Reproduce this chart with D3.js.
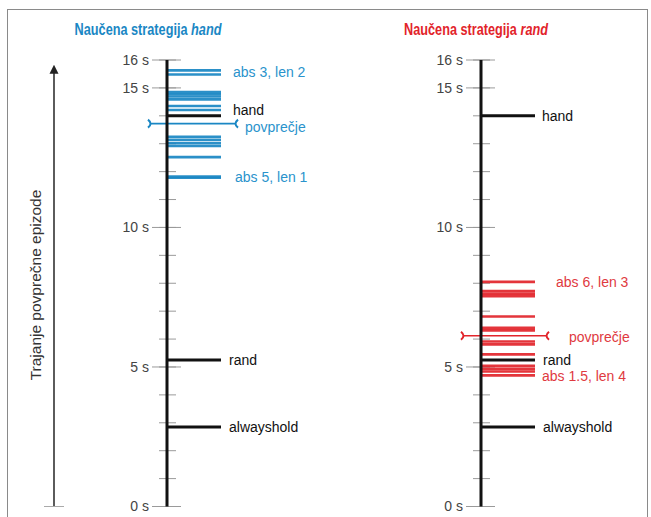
<!DOCTYPE html>
<html>
<head>
<meta charset="utf-8">
<script src="https://cdn.jsdelivr.net/npm/d3@7/dist/d3.min.js"></script>
<style>
  html, body { margin: 0; padding: 0; background: #fff; }
  svg { display: block; }
  text { font-family: "Liberation Sans", Arial, sans-serif; }
</style>
</head>
<body>
<script>
// Episode durations (seconds) of the learned strategies
const tickLabels = [0, 5, 10, 15, 16];
const minorTicks = d3.range(0, 17, 1);

const handRuns = [15.63, 15.48, 14.85, 14.77, 14.69, 14.59, 14.35, 14.21,
                  13.25, 13.14, 13.02, 12.92, 12.52, 11.82, 11.78];
const handMean = 13.72;

const randRuns = [8.05, 7.72, 7.63, 7.54, 6.81, 6.40, 6.31, 5.91, 5.81,
                  5.45, 5.04, 4.93, 4.84, 4.70];
const randMean = 6.12;

const refNames = ["hand", "rand", "alwayshold"];
const refValues = [14.0, 5.25, 2.85];

const handNotes = ["abs 3, len 2", "abs 5, len 1"];
const handNoteValues = [15.55, 11.8];
const randNotes = ["abs 6, len 3", "abs 1.5, len 4"];
const randNoteValues = [8.05, 4.7];

const W = 651, H = 517;
const svg = d3.select("body").append("svg").attr("width", W).attr("height", H);

// frame
svg.append("rect").attr("x", 7.5).attr("y", 9.5).attr("width", 640).attr("height", 540)
  .attr("fill", "none").attr("stroke", "#8a8a8a").attr("stroke-width", 1);

const y = d3.scaleLinear().domain([0, 16]).range([506.5, 60]);

// y-axis title with arrow
svg.append("defs").append("marker")
  .attr("id", "arrow").attr("viewBox", "0 0 10 10").attr("refX", 2).attr("refY", 5)
  .attr("markerUnits", "userSpaceOnUse")
  .attr("markerWidth", 9).attr("markerHeight", 12).attr("orient", "auto")
  .append("path").attr("d", "M0,0 L10,5 L0,10 Z").attr("fill", "#222");
svg.append("line").attr("x1", 54).attr("x2", 54).attr("y1", y(0)).attr("y2", 72)
  .attr("stroke", "#333").attr("stroke-width", 1.6).attr("marker-end", "url(#arrow)");
svg.append("line").attr("x1", 44).attr("x2", 64).attr("y1", y(0)).attr("y2", y(0))
  .attr("stroke", "#aaa").attr("stroke-width", 1);
svg.append("text").attr("transform", `translate(41,285) rotate(-90)`)
  .attr("text-anchor", "middle").attr("font-size", 15.5).attr("fill", "#333")
  .text("Trajanje povprečne epizode");

function panel(cfg) {
  const g = svg.append("g");
  const ax = cfg.axisX;

  // title in a condensed setting
  const tg = g.append("g").attr("transform", `translate(${cfg.titleX},35)`);
  const t = tg.append("text").attr("x", 0).attr("y", 0)
    .attr("text-anchor", "middle").attr("font-size", 17).attr("font-weight", "bold")
    .attr("fill", cfg.color);
  t.append("tspan").text("Naučena strategija ");
  t.append("tspan").attr("font-style", "italic").text(cfg.name);
  const len = t.node().getComputedTextLength();
  t.attr("transform", `scale(${cfg.titleW / len},1)`);

  // minor ticks
  g.selectAll(".minor").data(minorTicks).join("line")
    .attr("x1", ax - 8).attr("x2", ax + 9)
    .attr("y1", d => y(d)).attr("y2", d => y(d))
    .attr("stroke", "#9a9a9a").attr("stroke-width", 1);
  // labelled ticks
  g.selectAll(".major").data(tickLabels).join("line")
    .attr("x1", ax - 15).attr("x2", ax + 14)
    .attr("y1", d => y(d)).attr("y2", d => y(d))
    .attr("stroke", "#9a9a9a").attr("stroke-width", 1);
  g.selectAll(".tl").data(tickLabels).join("text")
    .attr("x", ax - 18).attr("y", d => y(d)).attr("dy", "0.35em")
    .attr("text-anchor", "end").attr("font-size", 14).attr("fill", "#444")
    .text(d => d + " s");

  // runs of the learned strategy
  g.selectAll(".run").data(cfg.runs).join("line")
    .attr("x1", ax).attr("x2", ax + 54)
    .attr("y1", d => y(d)).attr("y2", d => y(d))
    .attr("stroke", cfg.color).attr("stroke-width", 2.6).attr("opacity", 0.92);

  // reference strategies
  const refs = refNames.map((n, i) => ({ name: n, value: refValues[i] }));
  g.selectAll(".ref").data(refs).join("line")
    .attr("x1", ax).attr("x2", ax + 54)
    .attr("y1", d => y(d.value)).attr("y2", d => y(d.value))
    .attr("stroke", "#111").attr("stroke-width", 3);
  g.selectAll(".refl").data(refs).join("text")
    .attr("x", d => ax + cfg.refDx[d.name][0])
    .attr("y", d => y(d.value) + cfg.refDx[d.name][1]).attr("dy", "0.35em")
    .attr("font-size", 14).attr("fill", "#111").text(d => d.name);

  // average with bracket caps
  const my = y(cfg.mean);
  const x0 = ax - cfg.meanL, x1 = ax + cfg.meanR;
  g.append("line").attr("x1", x0).attr("x2", x1).attr("y1", my).attr("y2", my)
    .attr("stroke", cfg.color).attr("stroke-width", 1.6);
  g.append("path").attr("d", `M${x0 - 2},${my - 4} Q${x0 + 3},${my} ${x0 - 2},${my + 4}`)
    .attr("fill", "none").attr("stroke", cfg.color).attr("stroke-width", 2);
  g.append("path").attr("d", `M${x1 + 2},${my - 4} Q${x1 - 3},${my} ${x1 + 2},${my + 4}`)
    .attr("fill", "none").attr("stroke", cfg.color).attr("stroke-width", 2);
  g.append("text").attr("x", ax + cfg.meanLabelDx).attr("y", my + cfg.meanLabelDy).attr("dy", "0.35em")
    .attr("font-size", 14).attr("fill", cfg.textColor).text("povprečje");

  // notes on notable runs
  g.selectAll(".note").data(cfg.notes.map((n, i) => ({ text: n, value: cfg.noteValues[i], i })))
    .join("text")
    .attr("x", d => ax + cfg.noteDx[d.i][0])
    .attr("y", d => y(d.value) + cfg.noteDx[d.i][1]).attr("dy", "0.35em")
    .attr("font-size", 14).attr("fill", cfg.textColor).text(d => d.text);

  // main axis line
  g.append("line").attr("x1", ax).attr("x2", ax).attr("y1", y(0)).attr("y2", y(16))
    .attr("stroke", "#111").attr("stroke-width", 3);
}

panel({
  name: "hand", axisX: 167, titleX: 148, titleW: 147, color: "#1a87c4", textColor: "#2a93cc",
  runs: handRuns, mean: handMean, meanL: 17, meanR: 69, meanLabelDx: 78, meanLabelDy: 3,
  notes: handNotes, noteValues: handNoteValues, noteDx: [[66, 0], [68, 0]],
  refDx: { hand: [66, -6], rand: [62, 0], alwayshold: [62, 0] }
});

panel({
  name: "rand", axisX: 481, titleX: 476, titleW: 144, color: "#e2242b", textColor: "#e03a3f",
  runs: randRuns, mean: randMean, meanL: 18, meanR: 66, meanLabelDx: 88, meanLabelDy: 1,
  notes: randNotes, noteValues: randNoteValues, noteDx: [[75, 0], [61, 1]],
  refDx: { hand: [61, 0], rand: [62, 0], alwayshold: [62, 0] }
});
</script>
</body>
</html>
